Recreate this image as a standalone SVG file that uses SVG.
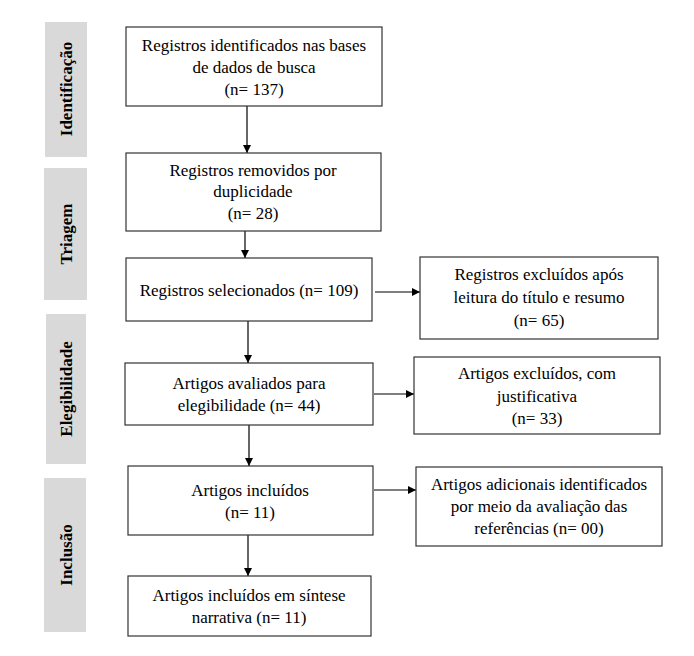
<svg xmlns="http://www.w3.org/2000/svg" width="694" height="656" viewBox="0 0 694 656">
<style>
.box{fill:#fff;stroke:#333;stroke-width:1.2}
.side{fill:#d9d9d9}
.t{font-family:"Liberation Serif","Times New Roman",serif;font-size:17px;fill:#000;text-anchor:middle}
.s{font-family:"Liberation Serif","Times New Roman",serif;font-size:17px;font-weight:bold;fill:#000;text-anchor:middle}
.c{stroke:#000;stroke-width:1.2;fill:none;marker-end:url(#ah)}
</style>
<defs>
<marker id="ah" viewBox="0 0 10 10" refX="10" refY="5" markerWidth="8" markerHeight="8" markerUnits="userSpaceOnUse" orient="auto">
<path d="M0,0 L10,5 L0,10 z" fill="#000"/>
</marker>
</defs>
<rect width="694" height="656" fill="#fff"/>
<g id="stage-identificacao"><rect class="side" x="45" y="22" width="42" height="135"/><text class="s" transform="translate(72,89) rotate(-90)">Identificação</text></g>
<g id="stage-triagem"><rect class="side" x="44" y="168" width="43" height="132"/><text class="s" transform="translate(72,234) rotate(-90)">Triagem</text></g>
<g id="stage-elegibilidade"><rect class="side" x="46" y="314" width="40" height="150"/><text class="s" transform="translate(72,389) rotate(-90)">Elegibilidade</text></g>
<g id="stage-inclusao"><rect class="side" x="44" y="478" width="42" height="154"/><text class="s" transform="translate(72,555) rotate(-90)">Inclusão</text></g>

<g id="connectors">
<line class="c" x1="247" y1="106" x2="247" y2="153"/>
<line class="c" x1="245" y1="231" x2="245" y2="258"/>
<line class="c" x1="248" y1="321" x2="248" y2="363"/>
<line class="c" x1="249" y1="425" x2="249" y2="466"/>
<line class="c" x1="248" y1="535" x2="248" y2="576"/>
<line class="c" x1="375" y1="292" x2="420" y2="292"/>
<line class="c" x1="374" y1="394" x2="414" y2="394"/>
<line class="c" x1="374" y1="490" x2="416" y2="490"/>
</g>

<g id="n1"><rect class="box" x="126" y="27" width="256" height="79"/>
<text class="t" x="254" y="51">Registros identificados nas bases</text>
<text class="t" x="254" y="73">de dados de busca</text>
<text class="t" x="254" y="95">(n= 137)</text></g>
<g id="n2"><rect class="box" x="126" y="153" width="255" height="78"/>
<text class="t" x="253" y="176">Registros removidos por</text>
<text class="t" x="253" y="197">duplicidade</text>
<text class="t" x="253" y="219">(n= 28)</text></g>
<g id="n3"><rect class="box" x="126" y="258" width="246" height="63"/>
<text class="t" x="249" y="296">Registros selecionados (n= 109)</text></g>
<g id="n4"><rect class="box" x="125" y="363" width="248" height="62"/>
<text class="t" x="249" y="389">Artigos avaliados para</text>
<text class="t" x="249" y="411">elegibilidade (n= 44)</text></g>
<g id="n5"><rect class="box" x="128" y="466" width="245" height="69"/>
<text class="t" x="250" y="496">Artigos incluídos</text>
<text class="t" x="250" y="518">(n= 11)</text></g>
<g id="n6"><rect class="box" x="128" y="576" width="243" height="60"/>
<text class="t" x="249" y="601">Artigos incluídos em síntese</text>
<text class="t" x="249" y="623">narrativa (n= 11)</text></g>
<g id="r1"><rect class="box" x="420" y="257" width="238" height="82"/>
<text class="t" x="539" y="280">Registros excluídos após</text>
<text class="t" x="539" y="303">leitura do título e resumo</text>
<text class="t" x="539" y="326">(n= 65)</text></g>
<g id="r2"><rect class="box" x="414" y="357" width="246" height="77"/>
<text class="t" x="537" y="379">Artigos excluídos, com</text>
<text class="t" x="537" y="402">justificativa</text>
<text class="t" x="537" y="424">(n= 33)</text></g>
<g id="r3"><rect class="box" x="416" y="467" width="246" height="79"/>
<text class="t" x="539" y="490">Artigos adicionais identificados</text>
<text class="t" x="539" y="512">por meio da avaliação das</text>
<text class="t" x="539" y="534">referências (n= 00)</text></g>
</svg>
